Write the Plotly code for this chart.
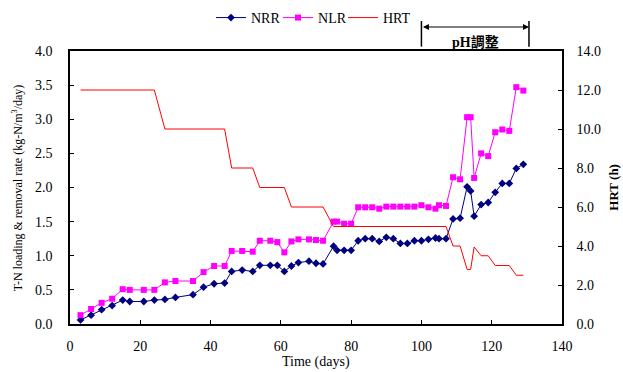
import plotly.graph_objects as go

days = [3, 6, 9, 12, 15, 17, 21, 24, 27, 30, 35, 38, 41, 44, 46, 49, 52, 54, 57, 59,
        61, 63, 65, 68, 70, 72, 75, 76, 78, 80, 82, 84, 86, 88, 90, 92, 94, 96, 98, 100,
        102, 104, 105, 107, 109, 111, 113, 114, 115, 117, 119, 121, 123, 125, 127, 129]

nrr = [0.06, 0.13, 0.21, 0.27, 0.35, 0.33, 0.33, 0.35, 0.36, 0.39, 0.43, 0.54, 0.59, 0.60,
       0.77, 0.79, 0.77, 0.86, 0.86, 0.86, 0.77, 0.85, 0.90, 0.92, 0.89, 0.88, 1.14, 1.08,
       1.08, 1.08, 1.22, 1.25, 1.25, 1.21, 1.27, 1.25, 1.18, 1.18, 1.22, 1.22, 1.24, 1.26,
       1.25, 1.25, 1.54, 1.55, 2.01, 1.95, 1.58, 1.75, 1.78, 1.93, 2.06, 2.06, 2.28, 2.34]

nlr = [0.13, 0.22, 0.31, 0.37, 0.51, 0.50, 0.50, 0.50, 0.61, 0.63, 0.63, 0.76, 0.85, 0.85,
       1.07, 1.07, 1.06, 1.22, 1.22, 1.20, 1.05, 1.21, 1.24, 1.24, 1.23, 1.22, 1.50, 1.50,
       1.47, 1.47, 1.71, 1.71, 1.71, 1.69, 1.72, 1.72, 1.72, 1.72, 1.72, 1.74, 1.71, 1.69,
       1.74, 1.73, 2.15, 2.12, 3.03, 3.03, 2.14, 2.50, 2.46, 2.81, 2.85, 2.83, 3.47, 3.42]

hrt = [12, 12, 12, 12, 12, 12, 12, 12, 10, 10, 10, 10, 10, 10, 8, 8, 8, 7, 7, 7,
       7, 6, 6, 6, 6, 6, 5, 5, 5, 5, 5, 5, 5, 5, 5, 5, 5, 5, 5, 5,
       5, 5, 5, 5, 4, 4, 2.8, 2.8, 3.95, 3.5, 3.5, 3.0, 3.0, 3.0, 2.5, 2.5]

ph_start, ph_end = 100, 130.6
ph_label = "pH調整"

SERIF = "Liberation Serif, Noto Sans CJK TC"
BLACK = "#000000"

fig = go.Figure()
fig.add_trace(go.Scatter(x=days, y=nrr, name="NRR", mode="lines+markers", legend="legend",
                         line=dict(color="#000080", width=1),
                         marker=dict(symbol="diamond", size=6, color="#000080")))
fig.add_trace(go.Scatter(x=days, y=nlr, name="NLR", mode="lines+markers", legend="legend2",
                         line=dict(color="#FF00FF", width=1),
                         marker=dict(symbol="square", size=6, color="#FF00FF")))
fig.add_trace(go.Scatter(x=days, y=hrt, name="HRT", mode="lines", yaxis="y2", legend="legend3",
                         line=dict(color="#FF0000", width=1)))

axis_common = dict(showline=True, linecolor=BLACK, linewidth=1.5, ticks="inside",
                   ticklen=4, tickcolor=BLACK, showgrid=False, zeroline=False,
                   automargin=False,
                   tickfont=dict(family=SERIF, size=14, color=BLACK))

legend_common = dict(orientation="h", xanchor="left", y=1.121, yanchor="middle",
                     font=dict(family=SERIF, size=14, color=BLACK), itemwidth=30,
                     bgcolor="rgba(0,0,0,0)")

fig.update_layout(
    width=623, height=372,
    margin=dict(l=70, r=61, t=51, b=48, autoexpand=False),
    paper_bgcolor="white", plot_bgcolor="white",
    font=dict(family=SERIF, size=13, color=BLACK),
    xaxis=dict(range=[0, 140], dtick=20, mirror=True, ticklabelstandoff=8, **axis_common),
    yaxis=dict(range=[0, 4], dtick=0.5, tickformat=".1f", ticklabelstandoff=13, **axis_common),
    yaxis2=dict(range=[0, 14], dtick=2, tickformat=".1f", overlaying="y", side="right",
                ticklabelstandoff=10, **axis_common),
    legend=dict(x=0.2866, **legend_common),
    legend2=dict(x=0.4228, **legend_common),
    legend3=dict(x=0.5549, **legend_common),
    showlegend=True,
)

# axis titles
fig.add_annotation(text="T-N loading & removal rate (kg-N/m<sup>3</sup>/day)", xref="paper", yref="paper",
                   x=-0.106, y=0.5, xanchor="center", yanchor="middle", textangle=-90, showarrow=False,
                   font=dict(family=SERIF, size=12, color=BLACK))
fig.add_annotation(text="<b>HRT (h)</b>", xref="paper", yref="paper",
                   x=1.104, y=0.5, xanchor="center", yanchor="middle", textangle=-90, showarrow=False,
                   font=dict(family=SERIF, size=13, color=BLACK))
fig.add_annotation(text="Time (days)", xref="paper", yref="paper",
                   x=0.5, y=-0.139, xanchor="center", yanchor="middle", showarrow=False,
                   font=dict(family=SERIF, size=14, color=BLACK))

# pH adjustment bracket
for xv in (ph_start, ph_end):
    fig.add_shape(type="line", xref="x", yref="paper", x0=xv, x1=xv, y0=1.016, y1=1.11,
                  line=dict(color=BLACK, width=1.5))
fig.add_annotation(xref="x", yref="paper", x=ph_end, y=1.088, axref="x", ax=ph_start,
                   ayref="pixel", ay=0, text="", showarrow=True, arrowside="end+start",
                   arrowhead=2, arrowsize=1, arrowwidth=1.2, arrowcolor=BLACK)
fig.add_annotation(xref="x", yref="paper", x=(ph_start + ph_end) / 2, y=1.033,
                   text="<b>" + ph_label + "</b>", showarrow=False, yanchor="middle",
                   font=dict(family=SERIF, size=14, color=BLACK))

fig.write_html("out.html")
